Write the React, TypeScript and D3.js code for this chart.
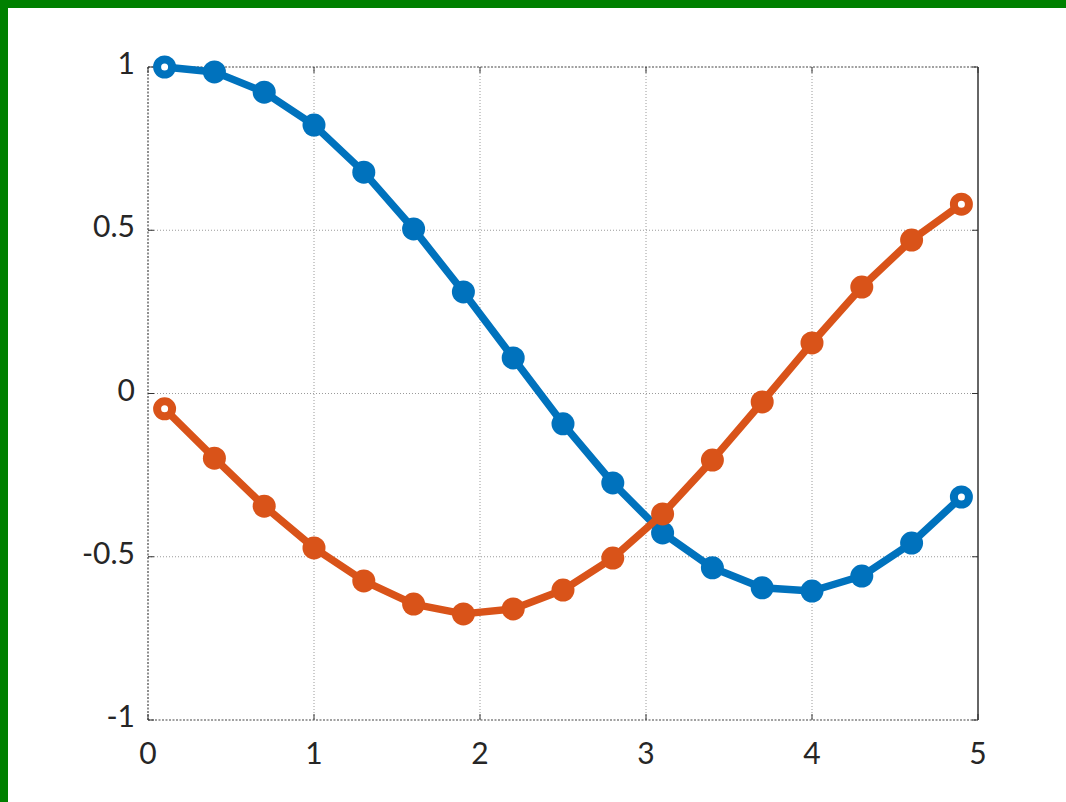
import React from "react";
import * as d3 from "d3";

const xs = [0.1, 0.4, 0.7, 1.0, 1.3, 1.6, 1.9, 2.2, 2.5, 2.8, 3.1, 3.4, 3.7, 4.0, 4.3, 4.6, 4.9];
const blueValues = [1.0, 0.985, 0.923, 0.822, 0.678, 0.504, 0.311, 0.109, -0.093, -0.274, -0.427, -0.534, -0.595, -0.605, -0.559, -0.458, -0.317];
const orangeValues = [-0.047, -0.198, -0.345, -0.473, -0.574, -0.645, -0.675, -0.66, -0.602, -0.504, -0.369, -0.204, -0.026, 0.155, 0.326, 0.47, 0.58];
const xTicks = [0, 1, 2, 3, 4, 5];
const yTicks = [-1, -0.5, 0, 0.5, 1];

const W = 1066, H = 802;
const left = 148, right = 978, top = 67, bottom = 720;

export default function App() {
  const x = d3.scaleLinear().domain([0, 5]).range([left, right]);
  const y = d3.scaleLinear().domain([-1, 1]).range([bottom, top]);
  const line = d3.line<number>().x((_, i) => x(xs[i])).y((d) => y(d));
  const series = [
    { vals: blueValues, color: "#0072BD" },
    { vals: orangeValues, color: "#D95319" },
  ];
  const font = "Lato, 'Open Sans', sans-serif";
  return (
    <svg width={W} height={H} style={{ position: "absolute", left: 0, top: 0 }}>
      <rect x={0} y={0} width={W} height={H} fill="#008000" />
      <rect x={8} y={8} width={W - 8} height={H - 8} fill="#ffffff" />
      {xTicks.slice(1, -1).map((t) => (
        <line key={"gx" + t} x1={x(t)} x2={x(t)} y1={top} y2={bottom} stroke="#9a9a9a" strokeWidth={1} strokeDasharray="1,2" />
      ))}
      {yTicks.slice(1, -1).map((t) => (
        <line key={"gy" + t} x1={left} x2={right} y1={y(t)} y2={y(t)} stroke="#9a9a9a" strokeWidth={1} strokeDasharray="1,2" />
      ))}
      <line x1={left} x2={right} y1={top} y2={top} stroke="#444" strokeWidth={1.2} strokeDasharray="2,1.5" />
      <line x1={left} x2={right} y1={bottom} y2={bottom} stroke="#444" strokeWidth={1.2} strokeDasharray="2,1.5" />
      <line x1={left} x2={left} y1={top} y2={bottom} stroke="#444" strokeWidth={1.2} strokeDasharray="2,1.5" />
      <line x1={right} x2={right} y1={top} y2={bottom} stroke="#333" strokeWidth={1.5} />
      {xTicks.map((t) => (
        <g key={"tx" + t}>
          <line x1={x(t)} x2={x(t)} y1={bottom} y2={bottom - 6} stroke="#333" strokeWidth={1} />
          <line x1={x(t)} x2={x(t)} y1={top} y2={top + 6} stroke="#333" strokeWidth={1} />
          <text x={x(t)} y={764} textAnchor="middle" fontFamily={font} fontSize={30} fill="#262626">{t}</text>
        </g>
      ))}
      {yTicks.map((t) => (
        <g key={"ty" + t}>
          <line x1={left} x2={left + 6} y1={y(t)} y2={y(t)} stroke="#333" strokeWidth={1} />
          <line x1={right} x2={right - 6} y1={y(t)} y2={y(t)} stroke="#333" strokeWidth={1} />
          <text x={135} y={y(t) + 7} textAnchor="end" fontFamily={font} fontSize={30} fill="#262626">{t}</text>
        </g>
      ))}
      {series.map((s, si) => (
        <g key={"s" + si}>
          <path d={line(s.vals) || ""} fill="none" stroke={s.color} strokeWidth={7.5} strokeLinejoin="round" />
          {s.vals.map((v, i) => {
            const end = i === 0 || i === s.vals.length - 1;
            return end ? (
              <circle key={i} cx={x(xs[i])} cy={y(v)} r={7.5} fill="#fff" stroke={s.color} strokeWidth={8} />
            ) : (
              <circle key={i} cx={x(xs[i])} cy={y(v)} r={11.5} fill={s.color} />
            );
          })}
        </g>
      ))}
    </svg>
  );
}
